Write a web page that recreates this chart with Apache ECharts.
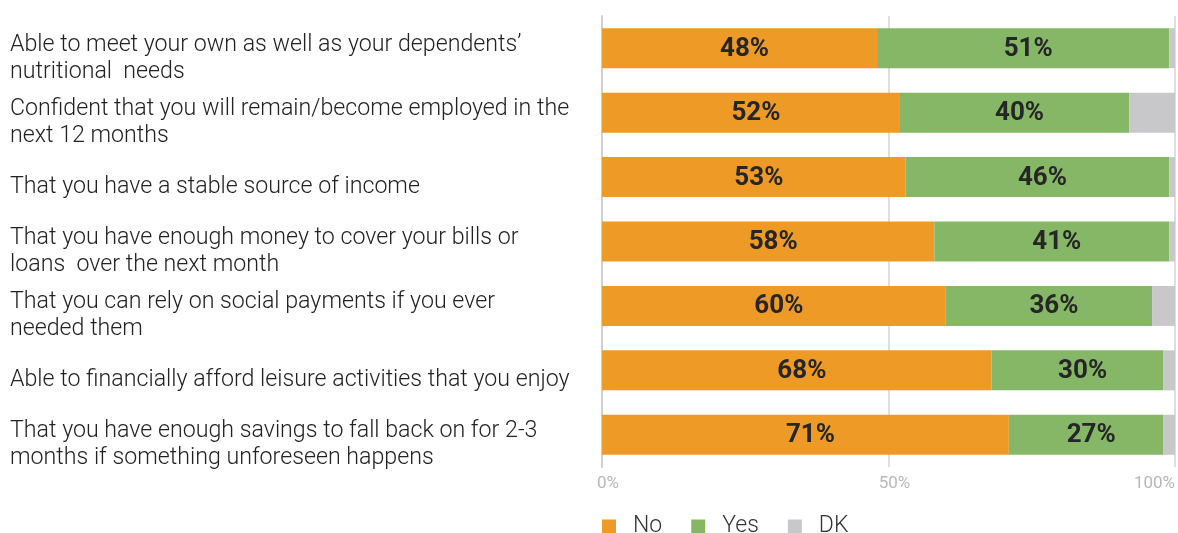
<!DOCTYPE html>
<html><head><meta charset="utf-8">
<script src="https://cdn.jsdelivr.net/npm/echarts@6/dist/echarts.min.js"></script>
<style>html,body{margin:0;padding:0;background:#fff}#c{width:1178px;height:533px}</style>
</head><body><div id="c"></div>
<script>
var categories = [
  "Able to meet your own as well as your dependents’\nnutritional  needs",
  "Confident that you will remain/become employed in the\nnext 12 months",
  "That you have a stable source of income",
  "That you have enough money to cover your bills or\nloans  over the next month",
  "That you can rely on social payments if you ever\nneeded them",
  "Able to financially afford leisure activities that you enjoy",
  "That you have enough savings to fall back on for 2-3\nmonths if something unforeseen happens"
];
var noValues  = [48, 52, 53, 58, 60, 68, 71];
var yesValues = [51, 40, 46, 41, 36, 30, 27];
var dkValues  = [1, 8, 1, 1, 4, 2, 2];
var xTicks = [0, 50, 100];

var chart = echarts.init(document.getElementById('c'), null, {renderer: 'canvas'});
var font = 'Roboto, "Noto Sans", sans-serif';
function barLabel(show) {
  return {show: show, position: 'inside', offset: [5, 1], color: '#262626', fontWeight: 'bold', fontSize: 26, fontFamily: font,
          formatter: function (p) { return p.value + '%'; }};
}
chart.setOption({
  animation: false,
  grid: {left: 602, right: 0, top: 16, bottom: 66, containLabel: false},
  legend: {
    left: 597, top: 510, icon: 'rect', itemWidth: 14, itemHeight: 14, itemGap: 29,
    textStyle: {fontSize: 23, color: '#333', fontFamily: font, fontWeight: 300, padding: [0, 0, 0, 12]},
    data: ['No', 'Yes', 'DK']
  },
  xAxis: {
    type: 'value', min: xTicks[0], max: xTicks[xTicks.length - 1], interval: 50,
    axisLine: {show: false}, axisTick: {show: false},
    splitLine: {show: true, lineStyle: {color: '#dedede', width: 2}},
    axisLabel: {color: '#b8b8b8', fontSize: 17, fontFamily: font, margin: 8, alignMaxLabel: 'right',
                padding: [0, 0, 0, 12], formatter: '{value}%'}
  },
  yAxis: {
    type: 'category', inverse: true, data: categories,
    axisLine: {show: true, lineStyle: {color: '#d0d0d0', width: 2}},
    axisTick: {show: false},
    axisLabel: {interval: 0, align: 'left', margin: 592, color: '#222', fontSize: 23.2, fontWeight: 300, fontFamily: font,
                lineHeight: 27,
                formatter: function (v) { return '{s| }\n' + v; },
                rich: {s: {fontSize: 2, lineHeight: 20}}}
  },
  series: [
    {name: 'No', type: 'bar', stack: 't', data: noValues, barWidth: 40,
     itemStyle: {color: '#EE9A26'}, label: barLabel(true)},
    {name: 'Yes', type: 'bar', stack: 't', data: yesValues, barWidth: 40,
     itemStyle: {color: '#85B767'}, label: barLabel(true)},
    {name: 'DK', type: 'bar', stack: 't', data: dkValues, barWidth: 40,
     itemStyle: {color: '#C8C8CA'}, label: barLabel(false)}
  ]
});
</script></body></html>
